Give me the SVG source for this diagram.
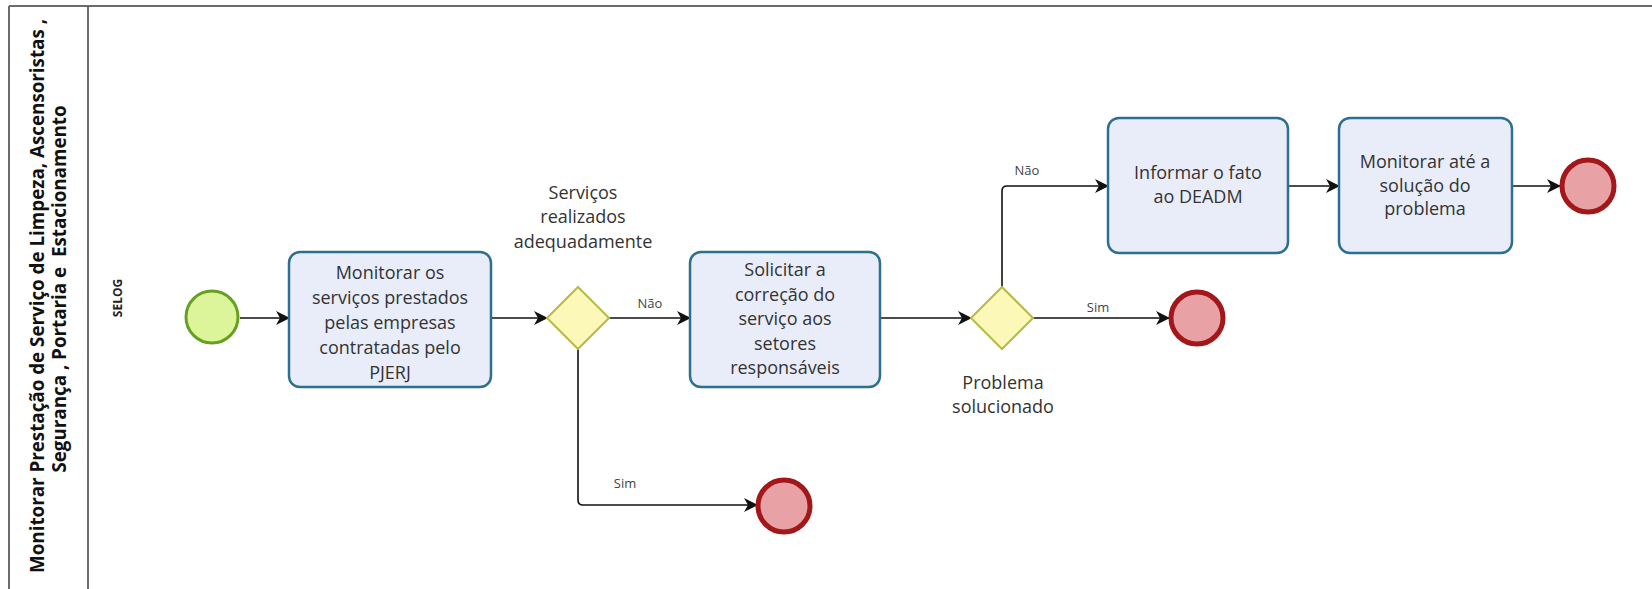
<svg xmlns="http://www.w3.org/2000/svg" width="1652" height="589" viewBox="0 0 1652 589">
<style>
.pool{fill:none;stroke:#6b6b6b;stroke-width:2}
.task rect{fill:#e9edfa;stroke:#2d6f8f;stroke-width:2.5}
.gw polygon{fill:#fcf8b8;stroke:#b7b948;stroke-width:2}
.start circle{fill:#dcf59b;stroke:#66a021;stroke-width:3}
.end circle{fill:#e8a2a5;stroke:#a3161a;stroke-width:5}
text{font-family:"Open Sans","Noto Sans","Liberation Sans",sans-serif;fill:#333}
.t{font-size:18px;text-anchor:middle}
.lbl{font-size:13px;text-anchor:middle;fill:#444}
.title{font-size:18.8px;font-weight:bold;text-anchor:middle;fill:#111;white-space:pre}
.lane{font-size:12px;font-weight:bold;text-anchor:middle;fill:#222}
.conn path{fill:none;stroke:#111;stroke-width:1.6}
</style>
<defs>
<marker id="arr" viewBox="0 0 14 14" refX="13" refY="7" markerWidth="14" markerHeight="14" markerUnits="userSpaceOnUse" orient="auto">
<path d="M0,0 L14,7 L0,14 L4,7 Z" fill="#111"/>
</marker>
</defs>
<g id="pool">
<path class="pool" d="M9,6 H1652 M9,6 V589 M88,6 V589"/>
<text class="title" transform="translate(44,296) rotate(-90)">Monitorar Prestação de Serviço de Limpeza, Ascensoristas ,</text>
<text class="title" xml:space="preserve" transform="translate(66,289) rotate(-90)">Segurança , Portaria e  Estacionamento</text>
<text class="lane" transform="translate(122,298) rotate(-90)">SELOG</text>
</g>
<g class="conn" id="connectors">
<path d="M240,318 H289" marker-end="url(#arr)"/>
<path d="M491,318 H547" marker-end="url(#arr)"/>
<path d="M609,318 H690" marker-end="url(#arr)"/>
<path d="M578,349 V500 Q578,505 583,505 H757" marker-end="url(#arr)"/>
<path d="M880,318 H971" marker-end="url(#arr)"/>
<path d="M1033,318 H1169" marker-end="url(#arr)"/>
<path d="M1002,287 V191 Q1002,186 1007,186 H1108" marker-end="url(#arr)"/>
<path d="M1288,186 H1339" marker-end="url(#arr)"/>
<path d="M1512,186 H1560" marker-end="url(#arr)"/>
<text class="lbl" x="650" y="308">Não</text>
<text class="lbl" x="625" y="488">Sim</text>
<text class="lbl" x="1098" y="312">Sim</text>
<text class="lbl" x="1027" y="175">Não</text>
</g>
<g id="start" class="start"><circle cx="212" cy="317" r="26"/></g>
<g id="task1" class="task">
<rect x="289" y="252" width="202" height="135" rx="11"/>
<text class="t" x="390" y="279">Monitorar os</text>
<text class="t" x="390" y="304">serviços prestados</text>
<text class="t" x="390" y="329">pelas empresas</text>
<text class="t" x="390" y="354">contratadas pelo</text>
<text class="t" x="390" y="379">PJERJ</text>
</g>
<g id="gw1" class="gw">
<polygon points="578,287 609,318 578,349 547,318"/>
<text class="t" x="583" y="199">Serviços</text>
<text class="t" x="583" y="223">realizados</text>
<text class="t" x="583" y="248">adequadamente</text>
</g>
<g id="task2" class="task">
<rect x="690" y="252" width="190" height="135" rx="11"/>
<text class="t" x="785" y="276">Solicitar a</text>
<text class="t" x="785" y="301">correção do</text>
<text class="t" x="785" y="325">serviço aos</text>
<text class="t" x="785" y="350">setores</text>
<text class="t" x="785" y="374">responsáveis</text>
</g>
<g id="gw2" class="gw">
<polygon points="1002,287 1033,318 1002,349 971,318"/>
<text class="t" x="1003" y="389">Problema</text>
<text class="t" x="1003" y="413">solucionado</text>
</g>
<g id="end1" class="end"><circle cx="784" cy="506" r="26"/></g>
<g id="end2" class="end"><circle cx="1197" cy="318" r="26"/></g>
<g id="task3" class="task">
<rect x="1108" y="118" width="180" height="135" rx="11"/>
<text class="t" x="1198" y="179">Informar o fato</text>
<text class="t" x="1198" y="203">ao DEADM</text>
</g>
<g id="task4" class="task">
<rect x="1339" y="118" width="173" height="135" rx="11"/>
<text class="t" x="1425" y="168">Monitorar até a</text>
<text class="t" x="1425" y="192">solução do</text>
<text class="t" x="1425" y="215">problema</text>
</g>
<g id="end3" class="end"><circle cx="1588" cy="186" r="26"/></g>
</svg>
